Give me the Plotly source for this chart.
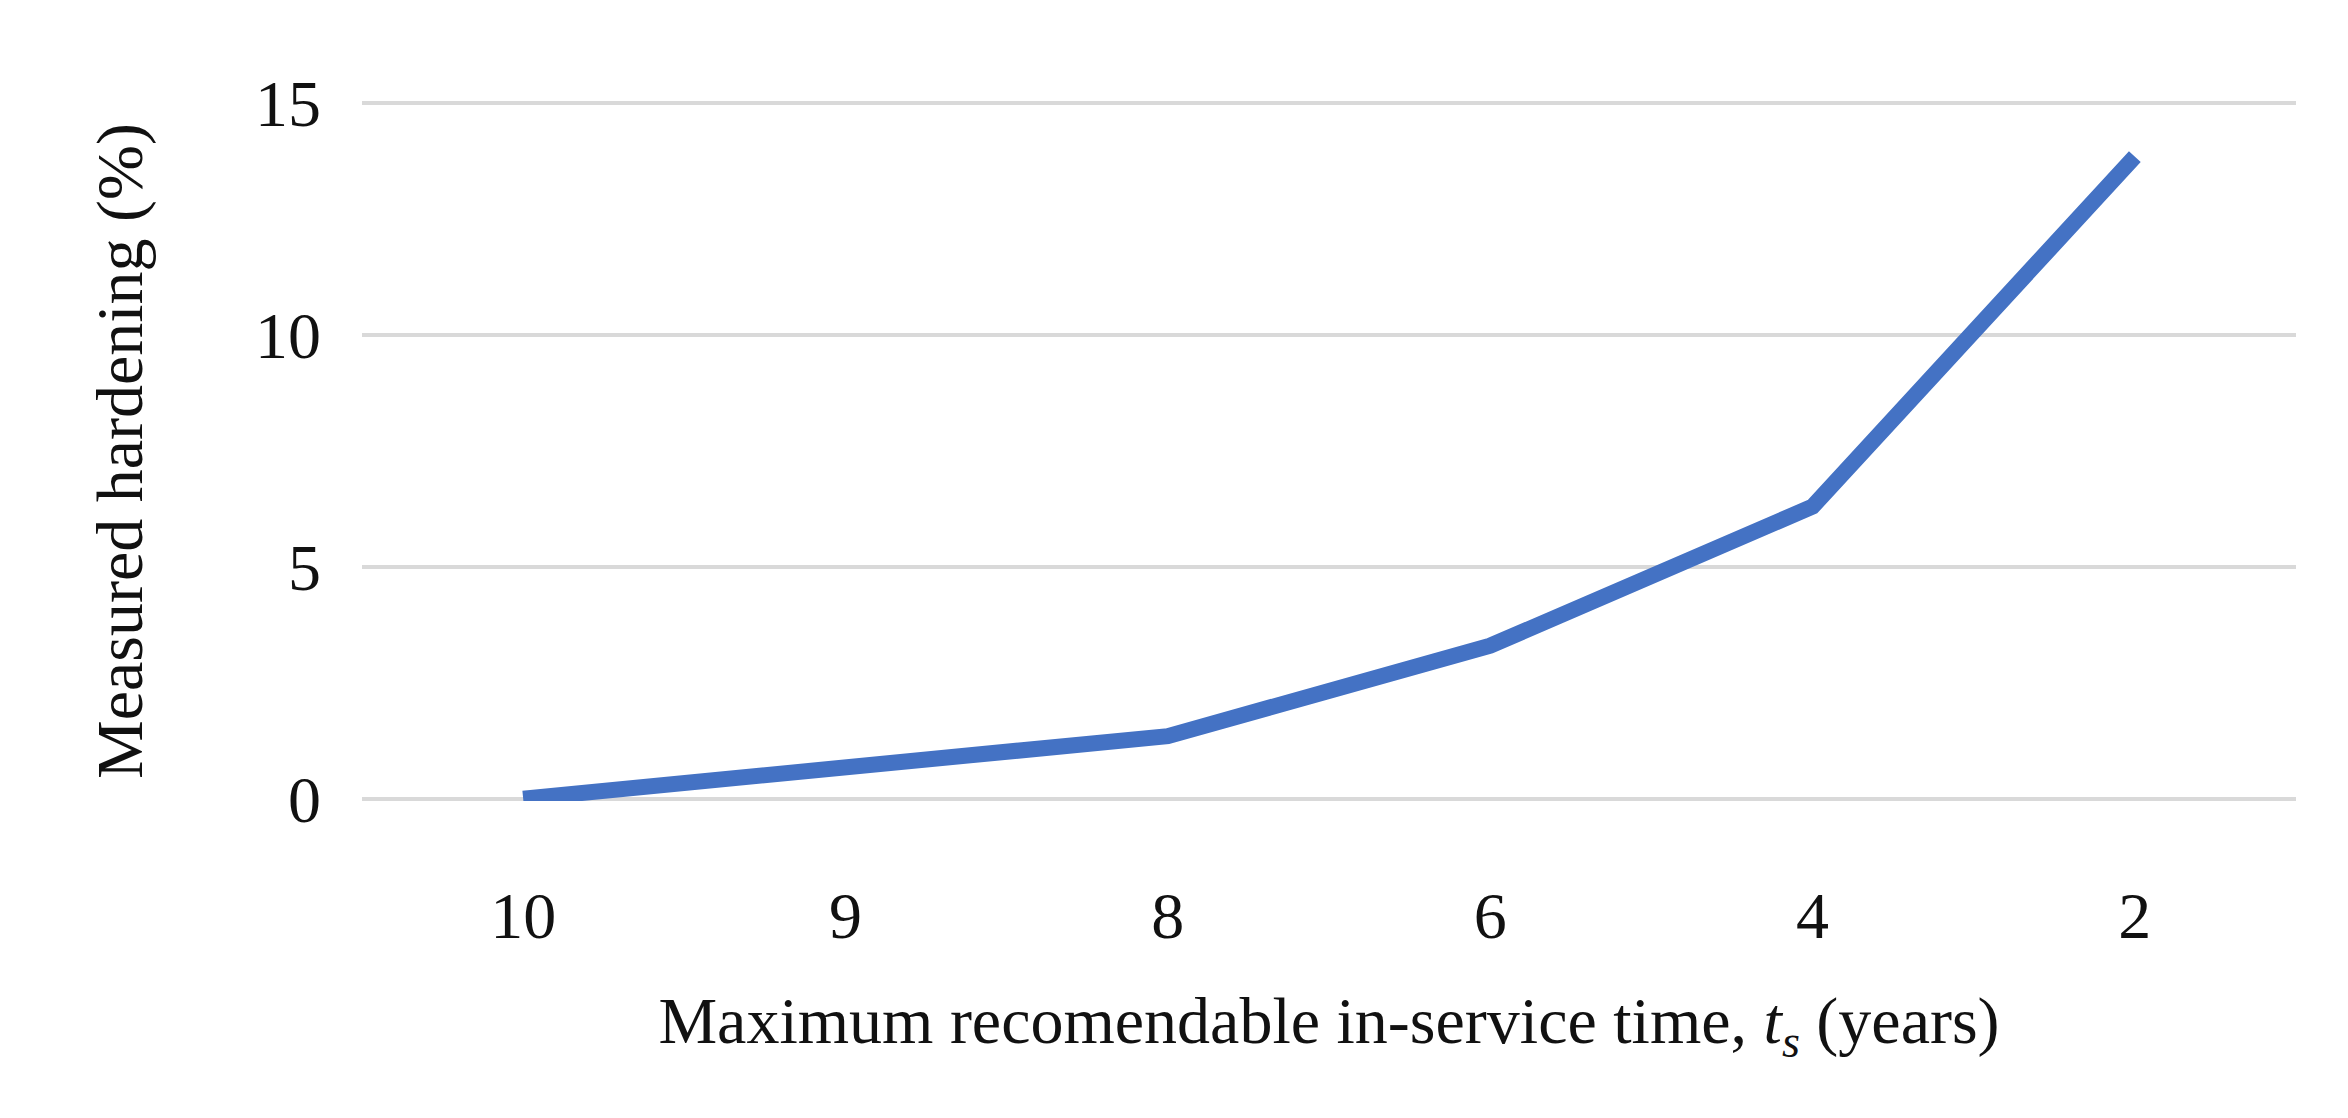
import plotly.graph_objects as go

categories = ["10", "9", "8", "6", "4", "2"]
hardening = [0.0, 0.65, 1.35, 3.3, 6.3, 13.85]
y_ticks = [0, 5, 10, 15]

fig = go.Figure(go.Scatter(x=categories, y=hardening, mode="lines",
                           line=dict(color="#4472C4", width=16)))
font = dict(family="Liberation Serif, DejaVu Serif, serif", size=66, color="#111")
fig.update_layout(
    width=2348, height=1118, paper_bgcolor="white", plot_bgcolor="white",
    margin=dict(l=354, r=60, t=93, b=325), showlegend=False, font=font,
    xaxis=dict(type="category", range=[-0.5, 5.5], showgrid=False, showline=False, ticks="",
               ticklabelstandoff=70, tickfont=font,
               title=dict(text="Maximum recomendable in-service time, <i>t<sub>s</sub></i> (years)",
                          font=font, standoff=45)),
    yaxis=dict(range=[-0.05, 15.05], tickvals=y_ticks, gridcolor="#D9D9D9", gridwidth=4,
               zeroline=False, showline=False, ticks="", ticklabelstandoff=40, tickfont=font,
               title=dict(text="Measured hardening (%)", font=font, standoff=90)),
)
fig.write_html("out.html")
